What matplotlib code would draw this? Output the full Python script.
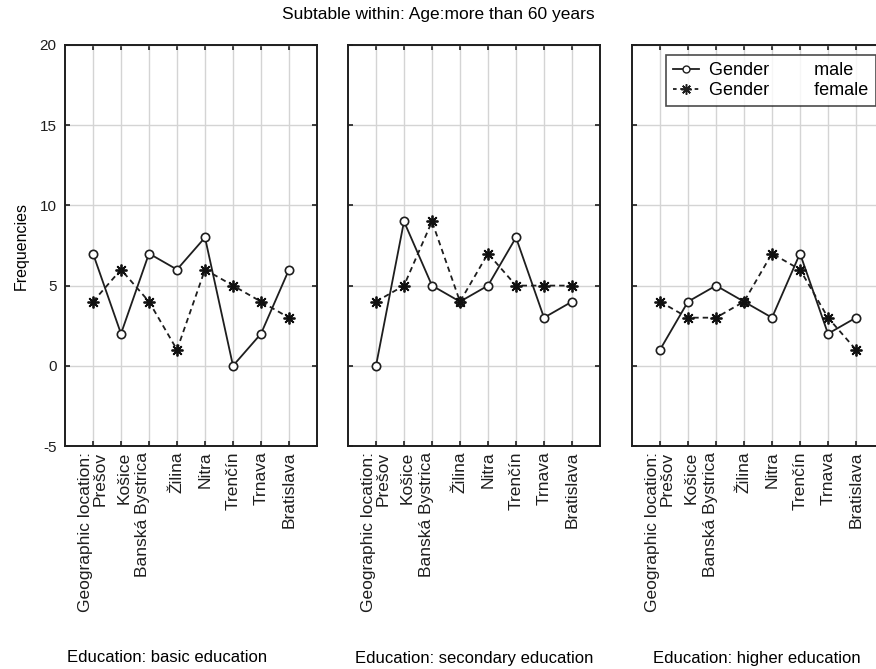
import matplotlib
matplotlib.use("Agg")
import matplotlib.pyplot as plt
import matplotlib.transforms as mtransforms
from matplotlib.lines import Line2D

plt.rcParams["axes.unicode_minus"] = False
plt.rcParams["font.family"] = ["Liberation Sans", "DejaVu Sans"]

regions = ["Prešov", "Košice", "Banská Bystrica", "Žilina", "Nitra",
           "Trenčín", "Trnava", "Bratislava"]
tick_labels = ["Geographic location:\nPrešov"] + regions[1:]

panel_titles = ["Education: basic education",
                "Education: secondary education",
                "Education: higher education"]

male_basic = [7, 2, 7, 6, 8, 0, 2, 6]
female_basic = [4, 6, 4, 1, 6, 5, 4, 3]
male_secondary = [0, 9, 5, 4, 5, 8, 3, 4]
female_secondary = [4, 5, 9, 4, 7, 5, 5, 5]
male_higher = [1, 4, 5, 4, 3, 7, 2, 3]
female_higher = [4, 3, 3, 4, 7, 6, 3, 1]

male_series = [male_basic, male_secondary, male_higher]
female_series = [female_basic, female_secondary, female_higher]

y_ticks = [-5, 0, 5, 10, 15, 20]

W, H = 876, 669
fig = plt.figure(figsize=(W / 100, H / 100), dpi=100)

panel_left_px = [65, 348, 632]
panel_w_px = 252
top_px, bottom_px = 45, 446
label_centers_px = [167, 474, 757]

x = list(range(1, len(regions) + 1))
asterisk = (8, 2, 0)

for i in range(3):
    ax = fig.add_axes([panel_left_px[i] / W, (H - bottom_px) / H,
                       panel_w_px / W, (bottom_px - top_px) / H])
    ax.set_xlim(0, len(regions) + 1)
    ax.set_ylim(-5, 20)
    ax.set_xticks(x)
    ax.set_yticks(y_ticks)
    ax.grid(True, color="#d4d4d4", linewidth=1.0)
    ax.set_axisbelow(True)
    for s in ax.spines.values():
        s.set_linewidth(1.4)
        s.set_color("#1e1e1e")
    ax.tick_params(direction="in", length=3.5, width=1.2, top=True, right=True,
                   colors="#1e1e1e", labelcolor="#1e1e1e")
    ax.tick_params(axis="x", pad=4)
    ax.tick_params(axis="y", pad=6, labelsize=11)

    labels = ax.set_xticklabels(tick_labels, rotation=90, fontsize=12.5,
                                va="top", ha="center")
    labels[0].set_multialignment("right")
    labels[0].set_linespacing(0.95)
    # slight spacing of the crowded first labels
    for lab, dx in zip(labels[1:3], (3, -6)):
        lab.set_transform(lab.get_transform() +
                          mtransforms.ScaledTranslation(dx / 100, 0, fig.dpi_scale_trans))

    if i > 0:
        ax.set_yticklabels([])
    else:
        ax.set_ylabel("Frequencies", fontsize=11.5, labelpad=8)

    ax.plot(x, male_series[i], color="#1e1e1e", linestyle="-", linewidth=1.3,
            marker="o", markersize=6, markerfacecolor="white",
            markeredgecolor="#1e1e1e", markeredgewidth=1.2, label="male",
            zorder=3)
    ax.plot(x, female_series[i], color="#1e1e1e", linestyle=(0, (3, 2.2)),
            linewidth=1.3, marker=asterisk, markersize=8.5,
            markeredgecolor="#111111", markeredgewidth=1.3, label="female",
            zorder=4)

    fig.text(label_centers_px[i] / W, 1 - 658 / H, panel_titles[i],
             ha="center", va="center", fontsize=12)

    if i == 2:
        handles = [
            Line2D([], [], color="#1e1e1e", linestyle="-", linewidth=1.3,
                   marker="o", markersize=5, markerfacecolor="white",
                   markeredgewidth=1.0),
            Line2D([], [], color="#1e1e1e", linestyle=(0, (2, 2)),
                   linewidth=1.3, marker=asterisk, markersize=7.5,
                   markeredgewidth=1.1),
        ]
        leg = ax.legend(handles, ["Gender         male", "Gender         female"],
                        loc="upper left",
                        bbox_to_anchor=((666 - panel_left_px[i]) / panel_w_px,
                                        1 - (55 - top_px) / (bottom_px - top_px)),
                        borderaxespad=0, fontsize=13, frameon=True,
                        fancybox=False, edgecolor="#1e1e1e",
                        handlelength=1.45, handletextpad=0.55,
                        borderpad=0.4, labelspacing=0.15)
        leg.get_frame().set_linewidth(1.2)
        leg.set_zorder(10)

fig.text(0.5, 1 - 15 / H, "Subtable within: Age:more than 60 years",
         ha="center", va="center", fontsize=12.5)

fig.savefig("out.png", dpi=100, facecolor="white")
